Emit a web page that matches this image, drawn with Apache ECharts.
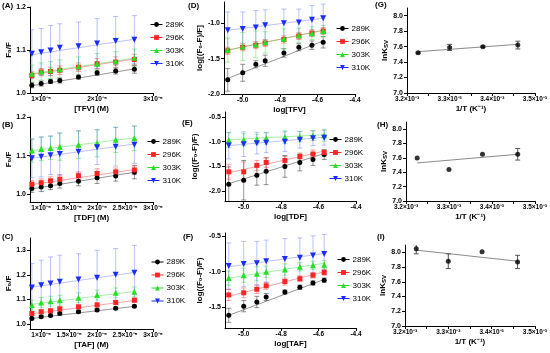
<!DOCTYPE html>
<html><head><meta charset="utf-8">
<script src="https://cdn.jsdelivr.net/npm/echarts@6/dist/echarts.min.js"></script>
<style>html,body{margin:0;padding:0;background:#fff}#c{width:550px;height:353px}</style>
</head><body><div id="c"></div>
<script>
// ---------- data ----------
const temps = ['289K', '296K', '303K', '310K'];
const concM = [0.833e-5, 1.0e-5, 1.167e-5, 1.333e-5, 1.667e-5, 2.0e-5, 2.333e-5, 2.667e-5];
const logConc = [-5.08, -5.0, -4.93, -4.88, -4.78, -4.70, -4.63, -4.57];
const invT = [3.226e-3, 3.300e-3, 3.378e-3, 3.460e-3];

// tick labels
const linTicksA = [1e-5, 2e-5, 3e-5];
const linTicksBC = [1e-5, 1.5e-5, 2e-5, 2.5e-5, 3e-5];
const logTicks = [-5.0, -4.8, -4.6, -4.4];
const invTTicks = [3.2e-3, 3.3e-3, 3.4e-3, 3.5e-3];
const invTMinor = [3.2e-3, 3.25e-3, 3.3e-3, 3.35e-3, 3.4e-3, 3.45e-3, 3.5e-3];
const yTicksAB = [1.0, 1.1, 1.2];
const yTicksC = [1.0, 1.1, 1.2, 1.3];
const yTicksD = [-2.0, -1.5, -1.0];
const yTicksE = [-2.0, -1.5, -1.0, -0.5];
const yTicksF = [-1.5, -1.0, -0.5];
const yTicksLnK = [7.0, 7.2, 7.4, 7.6, 7.8, 8.0];

// Panel A: F0/F vs [TFV]
const A_289 = [1.018, 1.022, 1.027, 1.029, 1.037, 1.047, 1.051, 1.055];
const A_296 = [1.041, 1.049, 1.050, 1.053, 1.060, 1.068, 1.072, 1.078];
const A_303 = [1.045, 1.050, 1.053, 1.055, 1.062, 1.068, 1.074, 1.082];
const A_310 = [1.091, 1.095, 1.099, 1.105, 1.109, 1.115, 1.121, 1.124];
const A_289e = [0.006, 0.006, 0.005, 0.006, 0.005, 0.006, 0.007, 0.009];
const A_296e = [0.008, 0.008, 0.010, 0.010, 0.010, 0.012, 0.012, 0.012];
const A_303e = [0.020, 0.020, 0.020, 0.022, 0.022, 0.024, 0.022, 0.020];
const A_310e = [0.056, 0.055, 0.058, 0.056, 0.056, 0.058, 0.057, 0.056];
const A_fit = [[1.017, 1.056], [1.043, 1.079], [1.045, 1.081], [1.089, 1.125]];

// Panel B: F0/F vs [TDF]
const B_289 = [1.015, 1.019, 1.022, 1.028, 1.034, 1.043, 1.047, 1.057];
const B_296 = [1.026, 1.030, 1.035, 1.039, 1.048, 1.054, 1.058, 1.063];
const B_303 = [1.113, 1.117, 1.120, 1.123, 1.128, 1.132, 1.141, 1.145];
const B_310 = [1.093, 1.097, 1.101, 1.104, 1.110, 1.122, 1.123, 1.128];
const B_289e = [0.010, 0.012, 0.010, 0.012, 0.012, 0.015, 0.013, 0.017];
const B_296e = [0.010, 0.010, 0.010, 0.012, 0.010, 0.012, 0.010, 0.012];
const B_303e = [0.030, 0.030, 0.030, 0.035, 0.035, 0.035, 0.033, 0.032];
const B_310e = [0.050, 0.052, 0.050, 0.055, 0.055, 0.045, 0.050, 0.048];
const B_fit = [[1.014, 1.057], [1.025, 1.064], [1.113, 1.146], [1.093, 1.130]];

// Panel C: F0/F vs [TAF]
const C_289 = [1.023, 1.030, 1.035, 1.043, 1.050, 1.057, 1.064, 1.073];
const C_296 = [1.043, 1.050, 1.054, 1.062, 1.070, 1.078, 1.088, 1.097];
const C_303 = [1.077, 1.088, 1.093, 1.097, 1.107, 1.118, 1.127, 1.131];
const C_310 = [1.149, 1.158, 1.165, 1.172, 1.181, 1.188, 1.201, 1.209];
const C_289e = [0.005, 0.005, 0.005, 0.005, 0.005, 0.005, 0.005, 0.005];
const C_296e = [0.008, 0.008, 0.008, 0.008, 0.008, 0.008, 0.008, 0.008];
const C_303e = [0.020, 0.020, 0.020, 0.020, 0.020, 0.020, 0.020, 0.020];
const C_310e = [0.097, 0.102, 0.108, 0.108, 0.105, 0.112, 0.106, 0.111];
const C_fit = [[1.023, 1.072], [1.042, 1.096], [1.080, 1.133], [1.150, 1.210]];

// Panel D: log((F0-F)/F) vs log[TFV]
const D_289 = [-1.80, -1.70, -1.58, -1.53, -1.42, -1.34, -1.31, -1.27];
const D_296 = [-1.39, -1.34, -1.31, -1.28, -1.23, -1.18, -1.14, -1.11];
const D_303 = [-1.38, -1.33, -1.30, -1.27, -1.22, -1.17, -1.14, -1.11];
const D_310 = [-1.10, -1.08, -1.06, -1.03, -1.00, -0.99, -0.95, -0.93];
const D_289e = [0.16, 0.12, 0.05, 0.08, 0.06, 0.05, 0.06, 0.08];
const D_296e = [0.05, 0.05, 0.05, 0.05, 0.05, 0.05, 0.05, 0.05];
const D_303e = [0.17, 0.20, 0.19, 0.15, 0.14, 0.10, 0.09, 0.08];
const D_310e = [0.26, 0.24, 0.24, 0.22, 0.20, 0.19, 0.20, 0.20];
const D_fit = [[-1.78, -1.25], [-1.38, -1.10], [-1.38, -1.10], [-1.10, -0.93]];

// Panel E: log((F0-F)/F) vs log[TDF]
const E_289 = [-1.86, -1.78, -1.68, -1.60, -1.50, -1.42, -1.36, -1.26];
const E_296 = [-1.61, -1.61, -1.48, -1.42, -1.38, -1.30, -1.25, -1.22];
const E_303 = [-0.97, -0.96, -0.95, -0.93, -0.91, -0.90, -0.88, -0.87];
const E_310 = [-1.08, -1.05, -1.03, -1.02, -1.00, -0.96, -0.93, -0.92];
const E_289e = [0.35, 0.40, 0.20, 0.27, 0.22, 0.17, 0.12, 0.10];
const E_296e = [0.15, 0.20, 0.10, 0.10, 0.08, 0.07, 0.08, 0.05];
const E_303e = [0.15, 0.12, 0.10, 0.12, 0.13, 0.10, 0.10, 0.12];
const E_310e = [0.27, 0.25, 0.22, 0.20, 0.20, 0.17, 0.15, 0.15];
const E_fit = [[-1.85, -1.24], [-1.63, -1.19], [-0.96, -0.86], [-1.08, -0.91]];

// Panel F: log((F0-F)/F) vs log[TAF]
const F_289 = [-1.62, -1.49, -1.43, -1.36, -1.29, -1.22, -1.16, -1.12];
const F_296 = [-1.33, -1.30, -1.25, -1.20, -1.14, -1.10, -1.05, -1.01];
const F_303 = [-1.09, -1.05, -1.03, -1.00, -0.97, -0.93, -0.91, -0.90];
const F_310 = [-0.92, -0.89, -0.88, -0.85, -0.82, -0.80, -0.77, -0.75];
const F_289e = [0.10, 0.08, 0.08, 0.05, 0.03, 0.03, 0.03, 0.03];
const F_296e = [0.08, 0.07, 0.06, 0.05, 0.05, 0.04, 0.04, 0.04];
const F_303e = [0.10, 0.10, 0.10, 0.08, 0.08, 0.06, 0.06, 0.06];
const F_310e = [0.33, 0.32, 0.31, 0.30, 0.29, 0.28, 0.28, 0.28];
const F_fit = [[-1.62, -1.11], [-1.35, -1.00], [-1.09, -0.88], [-0.93, -0.74]];

// Panels G-I: lnKsv vs 1/T
const G_lnK = [7.52, 7.59, 7.60, 7.62];
const G_err = [0.01, 0.04, 0.01, 0.05];
const G_fit = [7.535, 7.63];
const H_lnK = [7.60, 7.44, 7.65, 7.65];
const H_err = [0.0, 0.0, 0.0, 0.08];
const H_fit = [7.53, 7.65];
const I_lnK = [8.05, 7.88, 8.01, 7.87];
const I_err = [0.07, 0.10, 0.0, 0.09];
const I_fit = [8.03, 7.88];

// ---------- styling ----------
const FONT = '"Liberation Sans", Arial, sans-serif';
const tempColor = ['#000000', '#ff2424', '#25e025', '#1a2cff'];
const paleColor = ['rgba(0,0,0,0.42)', 'rgba(245,70,70,0.5)', 'rgba(40,220,40,0.42)', 'rgba(60,80,255,0.35)'];
const symbols = ['circle', 'rect', 'triangle', 'triangle'];
const symRot = [0, 0, 0, 180];
const symSize = [5, 5, 6, 6];

const supX = v => {
  const m = +(v / 1e-5).toFixed(2);
  return m + '×10⁻⁵';
};
const supT = v => (v * 1e3).toFixed(1) + '×10⁻³';
const fix1 = v => (+v).toFixed(1);

const panels = [
  {grid: {left: 30, top: 7, width: 123, height: 86}, xs: concM, xr: [0.8e-5, 3e-5], xt: linTicksA, xf: supX,
   yr: [1.0, 1.2], yt: yTicksAB, yname: 'F₀/F', ygap: 14, xname: '[TFV] (M)',
   vals: [A_289, A_296, A_303, A_310], errs: [A_289e, A_296e, A_303e, A_310e], fits: A_fit, leg: [150, 20.5], title: ['(A)', 2, 2]},
  {grid: {left: 30, top: 117, width: 123, height: 85}, xs: concM, xr: [0.8e-5, 3e-5], xt: linTicksBC, xf: supX,
   yr: [0.98, 1.2], yt: yTicksAB, yname: 'F₀/F', ygap: 14, xname: '[TDF] (M)',
   vals: [B_289, B_296, B_303, B_310], errs: [B_289e, B_296e, B_303e, B_310e], fits: B_fit, leg: [147, 137.5], title: ['(B)', 2, 121]},
  {grid: {left: 30, top: 238, width: 123, height: 91}, xs: concM, xr: [0.8e-5, 3e-5], xt: linTicksBC, xf: supX,
   yr: [0.98, 1.35], yt: yTicksC, yname: 'F₀/F', ygap: 14, xname: '[TAF] (M)',
   vals: [C_289, C_296, C_303, C_310], errs: [C_289e, C_296e, C_303e, C_310e], fits: C_fit, leg: [151, 258], title: ['(C)', 2, 233]},
  {grid: {left: 224, top: 2, width: 131, height: 92}, xs: logConc, xr: [-5.1, -4.4], xt: logTicks, xf: fix1,
   yr: [-2.0, -0.7], yt: yTicksD, yname: 'log[(F₀-F)/F]', ygap: 20, xname: 'log[TFV]',
   vals: [D_289, D_296, D_303, D_310], errs: [D_289e, D_296e, D_303e, D_310e], fits: D_fit, leg: [336, 24.5], title: ['(D)', 188, 2]},
  {grid: {left: 225, top: 112, width: 131, height: 89}, xs: logConc, xr: [-5.1, -4.4], xt: logTicks, xf: fix1,
   yr: [-2.2, -0.4], yt: yTicksE, yname: 'log((F₀-F)/F)', ygap: 26, xname: 'log[TDF]',
   vals: [E_289, E_296, E_303, E_310], errs: [E_289e, E_296e, E_303e, E_310e], fits: E_fit, leg: [329, 135.5], title: ['(E)', 182, 119]},
  {grid: {left: 225, top: 233, width: 131, height: 95}, xs: logConc, xr: [-5.1, -4.4], xt: logTicks, xf: fix1,
   yr: [-1.8, -0.45], yt: yTicksF, yname: 'log((F₀-F)/F)', ygap: 21, xname: 'log[TAF]',
   vals: [F_289, F_296, F_303, F_310], errs: [F_289e, F_296e, F_303e, F_310e], fits: F_fit, leg: [337, 255.5], title: ['(F)', 183, 233]}
];

const kPanels = [
  {grid: {left: 407, top: 8, width: 128, height: 85}, vals: G_lnK, errs: G_err, fit: G_fit, title: ['(G)', 375, 1]},
  {grid: {left: 406, top: 122, width: 129, height: 79}, vals: H_lnK, errs: H_err, fit: H_fit, title: ['(H)', 377, 121]},
  {grid: {left: 405, top: 245, width: 130, height: 81}, vals: I_lnK, errs: I_err, fit: I_fit, title: ['(I)', 377, 233]}
];

// ---------- helpers ----------
const labelStyle = {fontSize: 7, fontWeight: 'bold', color: '#000', fontFamily: FONT};
const nameStyle = {fontSize: 8, fontWeight: 'bold', color: '#000', fontFamily: FONT};

function xAxis(gi, range, ticks, tickMinor, fmt, name, gap) {
  return {
    type: 'value', gridIndex: gi, min: range[0], max: range[1],
    name: name, nameLocation: 'middle', nameGap: gap, nameTextStyle: nameStyle,
    axisLine: {show: true, onZero: false, lineStyle: {color: '#000', width: 1}},
    axisTick: {show: true, length: 3, customValues: tickMinor || ticks, lineStyle: {color: '#000', width: 1}},
    axisLabel: Object.assign({customValues: ticks, formatter: fmt, margin: 3}, labelStyle, {fontSize: 6.5}),
    splitLine: {show: false}
  };
}
function yAxis(gi, range, ticks, fmt, name, gap, rich) {
  const ns = Object.assign({}, nameStyle);
  if (rich) ns.rich = rich;
  return {
    type: 'value', gridIndex: gi, min: range[0], max: range[1],
    name: name, nameLocation: 'middle', nameGap: gap, nameTextStyle: ns,
    axisLine: {show: true, onZero: false, lineStyle: {color: '#000', width: 1}},
    axisTick: {show: true, length: 3, customValues: ticks, lineStyle: {color: '#000', width: 1}},
    axisLabel: Object.assign({customValues: ticks, formatter: fmt, margin: 4}, labelStyle),
    splitLine: {show: false}
  };
}
function errRender(color, cap) {
  return function (params, api) {
    const x = api.value(0), y = api.value(1), e = api.value(2);
    if (!e) return null;
    const t = api.coord([x, y + e]), b = api.coord([x, y - e]);
    const st = {stroke: color, lineWidth: 1};
    return {type: 'group', children: [
      {type: 'line', shape: {x1: t[0], y1: t[1], x2: b[0], y2: b[1]}, style: st},
      {type: 'line', shape: {x1: t[0] - cap, y1: t[1], x2: t[0] + cap, y2: t[1]}, style: st},
      {type: 'line', shape: {x1: b[0] - cap, y1: b[1], x2: b[0] + cap, y2: b[1]}, style: st}
    ]};
  };
}

const grids = [], xAxes = [], yAxes = [], series = [], legends = [], titles = [];

panels.forEach((p, gi) => {
  grids.push(p.grid);
  xAxes.push(xAxis(gi, p.xr, p.xt, null, p.xf, p.xname, 12));
  yAxes.push(yAxis(gi, p.yr, p.yt, fix1, p.yname, p.ygap));
  titles.push({text: p.title[0], left: p.title[1], top: p.title[2], padding: 0, textStyle: {fontSize: 8, fontWeight: 'bold', color: '#000', fontFamily: FONT}});
  temps.forEach((t, k) => {
    const xs = p.xs, v = p.vals[k], e = p.errs[k];
    series.push({
      type: 'line', xAxisIndex: gi, yAxisIndex: gi, symbol: 'none', silent: true, z: 1,
      lineStyle: {color: paleColor[k], width: 1},
      data: [[xs[0], p.fits[k][0]], [xs[xs.length - 1], p.fits[k][1]]]
    });
    series.push({
      type: 'custom', xAxisIndex: gi, yAxisIndex: gi, z: 2, silent: true, clip: true,
      renderItem: errRender(paleColor[k], 2.5), encode: {x: 0, y: 1},
      data: xs.map((x, i) => [x, v[i], e[i]])
    });
    series.push({
      type: 'line', name: t, xAxisIndex: gi, yAxisIndex: gi, z: 3,
      symbol: symbols[k], symbolSize: symSize[k], symbolRotate: symRot[k],
      itemStyle: {color: tempColor[k]}, lineStyle: {opacity: 0, width: 0, color: tempColor[k]},
      data: xs.map((x, i) => [x, v[i]])
    });
  });
  legends.push({
    orient: 'vertical', left: p.leg[0], top: p.leg[1], padding: 0, selectedMode: false,
    itemWidth: 12, itemHeight: 6, itemGap: 5, symbolRotate: 'inherit',
    textStyle: {fontSize: 8, color: '#000', fontFamily: FONT, lineHeight: 7, padding: [0, 0, 0, -2]},
    data: temps.map((t, k) => ({name: t, lineStyle: {color: tempColor[k], width: 1, opacity: 1}}))
  });
});

kPanels.forEach((p, j) => {
  const gi = panels.length + j;
  grids.push(p.grid);
  xAxes.push(xAxis(gi, [3.2e-3, 3.5e-3], invTTicks, invTMinor, supT, '1/T (K⁻¹)', 12));
  yAxes.push(yAxis(gi, [7.0, 8.1], yTicksLnK, fix1, 'lnK{s|SV}', 17, {s: {fontSize: 6, fontWeight: 'bold', padding: [4, 0, 0, 0], fontFamily: FONT}}));
  titles.push({text: p.title[0], left: p.title[1], top: p.title[2], padding: 0, textStyle: {fontSize: 8, fontWeight: 'bold', color: '#000', fontFamily: FONT}});
  series.push({
    type: 'line', xAxisIndex: gi, yAxisIndex: gi, symbol: 'none', silent: true, z: 1,
    lineStyle: {color: '#8a8a8a', width: 1},
    data: [[invT[0], p.fit[0]], [invT[invT.length - 1], p.fit[1]]]
  });
  series.push({
    type: 'custom', xAxisIndex: gi, yAxisIndex: gi, z: 2, silent: true, clip: true,
    renderItem: errRender('#555', 2.5), encode: {x: 0, y: 1},
    data: invT.map((x, i) => [x, p.vals[i], p.errs[i]])
  });
  series.push({
    type: 'scatter', xAxisIndex: gi, yAxisIndex: gi, z: 3, symbol: 'circle', symbolSize: 5,
    itemStyle: {color: '#000'}, data: invT.map((x, i) => [x, p.vals[i]])
  });
});

const chart = echarts.init(document.getElementById('c'), null, {renderer: 'canvas'});
chart.setOption({
  backgroundColor: '#fff', animation: false,
  textStyle: {fontFamily: FONT},
  title: titles, legend: legends, grid: grids, xAxis: xAxes, yAxis: yAxes, series: series
});
</script>
</body></html>
